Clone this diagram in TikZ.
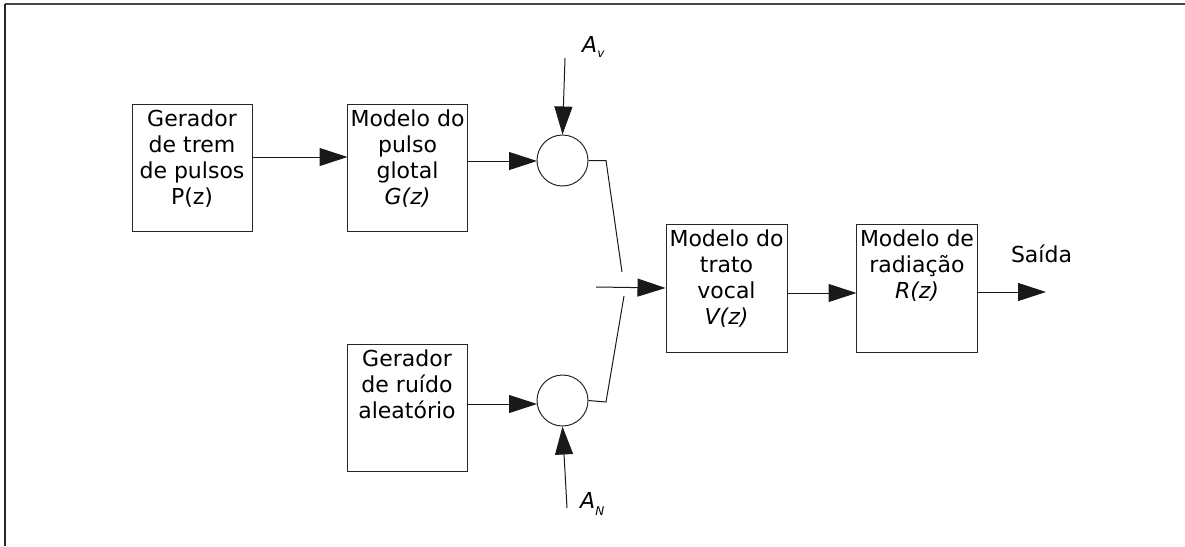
\documentclass[tikz,border=0pt]{standalone}
\usepackage{fontspec}
\setmainfont{DejaVu Sans}
\usetikzlibrary{arrows.meta}
\begin{document}
\begin{tikzpicture}[x=1pt,y=-1pt,
  blk/.style={draw=black!85,line width=1pt,rectangle,inner sep=0pt,minimum width=120pt,minimum height=127pt},
  blktext/.style={anchor=north,inner sep=0pt,align=center,font=\fontsize{22}{26}\selectfont},
  sumnode/.style={draw=black!85,line width=1pt,circle,inner sep=0pt,minimum size=51pt},
  wire/.style={line width=1pt,black!90},
  arr/.style={wire,-{Triangle[length=28pt,width=18pt]}},
  lbl/.style={inner sep=0pt,font=\fontsize{22}{26}\selectfont}]
\useasboundingbox (0,0) rectangle (1185,546);
\draw[gray!55!black,line width=2pt] (5,4) -- (1185,4);
\draw[black!85,line width=1.5pt] (5,4) -- (5,546);
% blocks
\node[blk] (b1) at (192,167.5) {};
\node[blktext] (t1) at ([yshift=-6pt]b1.north) {Gerador\\de trem\\de pulsos\\P(z)};
\node[blk] (b2) at (407.5,167.5) {};
\node[blktext] (t2) at ([yshift=-6pt]b2.north) {Modelo do\\pulso\\glotal\\\textit{G(z)}};
\node[blk] (b5) at (407,407.5) {};
\node[blktext] (t5) at ([yshift=-6pt]b5.north) {Gerador\\de ruído\\aleatório};
\node[blk,minimum width=121pt,minimum height=128pt] (b3) at (726.5,288) {};
\node[blktext] (t3) at ([yshift=-6pt]b3.north) {Modelo do\\trato\\vocal\\\textit{V(z)}};
\node[blk,minimum width=121pt,minimum height=128pt] (b4) at (917,288) {};
\node[blktext] (t4) at ([yshift=-6pt]b4.north) {Modelo de\\radiação\\\textit{R(z)}};
% summing circles
\node[sumnode] (c1) at (562.5,160.5) {};
\node[sumnode] (c2) at (562.5,400.5) {};
% labels
\node[lbl,anchor=base west] (av) at (582,52) {\textit{A}\raisebox{-5pt}{\fontsize{12}{12}\selectfont\itshape v}};
\node[lbl,anchor=base west] (an) at (580,508) {\textit{A}\raisebox{-7pt}{\fontsize{12}{12}\selectfont\itshape N}};
\node[lbl,anchor=base] (sai) at (1041.5,262) {Saída};
% coordinates
\coordinate (avs) at (565,58);
\coordinate (ans) at (567,508);
\coordinate (k1) at (606,160.5);
\coordinate (m1) at (622,272);
\coordinate (m2) at (624,296);
\coordinate (k2) at (606,402);
\coordinate (s) at (596,287);
\coordinate (o1) at (976.5,292);
\coordinate (out) at (1046,292);
\coordinate (p1a) at (252,157);
\coordinate (p1b) at (347.5,157);
\coordinate (p2a) at (467.5,161);
\coordinate (p2b) at (537,161);
\coordinate (p5a) at (467,404);
\coordinate (p5b) at (537,404);
\coordinate (p3a) at (787,293);
\coordinate (p3b) at (856.5,293);
% connectors
\draw[arr] (p1a) -- (p1b);
\draw[arr] (p2a) -- (p2b);
\draw[arr] (p5a) -- (p5b);
\draw[arr] (avs) -- (c1.north);
\draw[arr] (ans) -- (c2.south);
\draw[wire] (c1.east) -- (k1) -- (m1);
\draw[wire] (c2.east) -- (k2) -- (m2);
\draw[arr] (s) -- (b3.west);
\draw[arr] (p3a) -- (p3b);
\draw[arr] (o1) -- (out);
\end{tikzpicture}
\end{document}
